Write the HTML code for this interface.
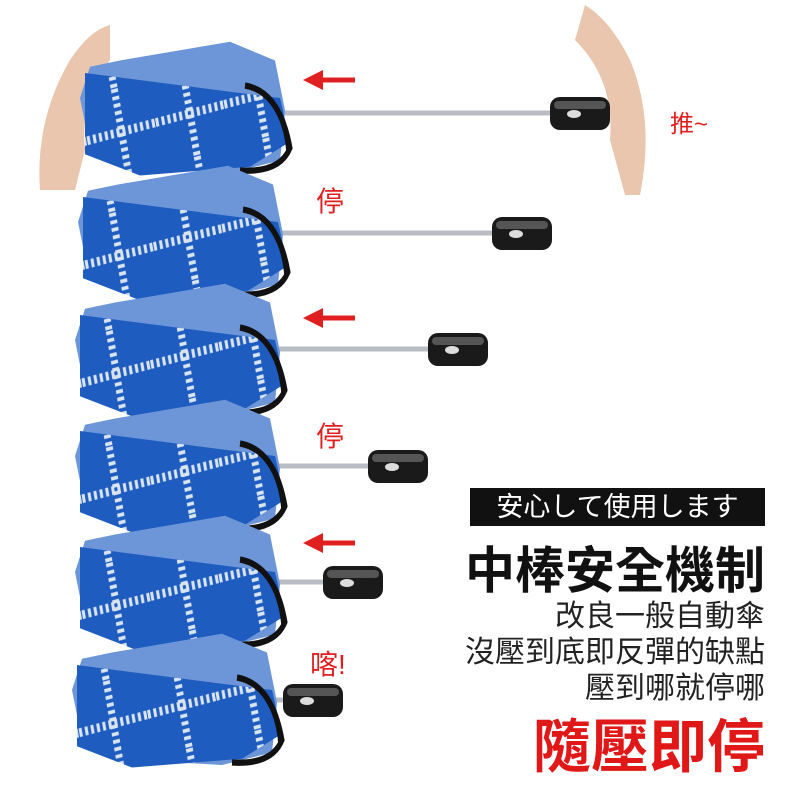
<!DOCTYPE html>
<html><head><meta charset="utf-8"><style>
body{margin:0;background:#fff;width:800px;height:800px;overflow:hidden;position:relative;font-family:"Liberation Sans","Noto Sans CJK TC",sans-serif}
.t{position:absolute;white-space:nowrap}
</style></head><body>
<svg width="800" height="800" style="position:absolute;left:0;top:0">
<defs>
<pattern id="pl" width="70" height="70" patternUnits="userSpaceOnUse" patternTransform="rotate(-12)">
<rect width="70" height="70" fill="#1f5cc0"/>
<line x1="0" y1="35" x2="70" y2="35" stroke="#d8e4f0" stroke-width="7" stroke-dasharray="3 3"/>
<line x1="35" y1="0" x2="35" y2="70" stroke="#d8e4f0" stroke-width="7" stroke-dasharray="3 3"/>
</pattern>
<g id="u0">
<path d="M40,-30 L150,-45 L195,-30 L205,10 L200,50 L150,60 L40,55 L10,40 L0,0 L10,-25 Z" fill="#6c96d8"/>
<path d="M5,-20 L150,-5 L200,0 L210,35 L170,55 L60,62 L5,45 Z" fill="url(#pl)"/>
<path d="M165,-10 Q200,-5 210,40 Q200,60 160,58" fill="none" stroke="#111" stroke-width="5"/>
<path d="M180,-5 Q205,10 208,45" fill="none" stroke="#111" stroke-width="3"/>
</g>
<g id="u"><use href="#u0" transform="scale(1,1.25)"/></g>
<g id="h"><rect x="0" y="-16" width="60" height="33" rx="10" fill="#1a1a1a"/><rect x="4" y="-12" width="52" height="8" rx="4" fill="#555"/><ellipse cx="24" cy="1" rx="7" ry="4" fill="#ddd"/></g>
<marker id="a" markerWidth="4" markerHeight="4" refX="1" refY="2" orient="auto"><path d="M0,0 L4,2 L0,4Z" fill="#e02020"/></marker>
</defs>
<path d="M40,190 Q35,120 70,60 Q90,30 110,25 L110,60 Q80,100 85,150 L75,190 Z" fill="#eac6ae"/>
<path d="M640,195 Q655,120 630,60 Q610,20 585,5 L575,40 Q615,80 610,140 L625,195 Z" fill="#eac6ae"/>
<g stroke="#b8bcc4" stroke-width="5">
<line x1="280" y1="113" x2="552" y2="113"/><line x1="275" y1="233" x2="492" y2="233"/>
<line x1="270" y1="349" x2="430" y2="349"/><line x1="268" y1="466" x2="370" y2="466"/>
<line x1="268" y1="582" x2="325" y2="582"/><line x1="262" y1="700" x2="285" y2="700"/>
</g>
<use href="#u" x="80" y="98"/><use href="#u" x="78" y="222"/><use href="#u" x="75" y="340"/>
<use href="#u" x="75" y="456"/><use href="#u" x="75" y="572"/><use href="#u" x="72" y="690"/>
<use href="#h" x="550" y="113"/><use href="#h" x="492" y="233"/><use href="#h" x="428" y="349"/>
<use href="#h" x="368" y="466"/><use href="#h" x="323" y="582"/><use href="#h" x="283" y="700"/>
<g stroke="#e02020" stroke-width="5">
<line x1="355" y1="80" x2="318" y2="80" marker-end="url(#a)"/>
<line x1="355" y1="318" x2="318" y2="318" marker-end="url(#a)"/>
<line x1="355" y1="543" x2="318" y2="543" marker-end="url(#a)"/>
</g>
</svg>
<div class="t" style="left:316px;top:180px;font-size:28px;color:#e02020">停</div>
<div class="t" style="left:316px;top:415px;font-size:28px;color:#e02020">停</div>
<div class="t" style="left:310px;top:643px;font-size:28px;color:#e02020">喀!</div>
<div class="t" style="left:670px;top:104px;font-size:24px;color:#e02020">推~</div>
<div class="t" style="left:470px;top:488px;width:295px;height:38px;background:#111;color:#fff;font-size:27px;line-height:38px;text-align:center">安心して使用します</div>
<div class="t" style="right:35px;top:531px;font-size:50px;font-weight:bold;color:#111">中棒安全機制</div>
<div class="t" style="right:35px;top:591px;font-size:30px;color:#222">改良一般自動傘</div>
<div class="t" style="right:35px;top:627px;font-size:30px;color:#222">沒壓到底即反彈的缺點</div>
<div class="t" style="right:35px;top:663px;font-size:30px;color:#222">壓到哪就停哪</div>
<div class="t" style="right:35px;top:700px;font-size:58px;font-weight:bold;color:#e01818">隨壓即停</div>
</body></html>
